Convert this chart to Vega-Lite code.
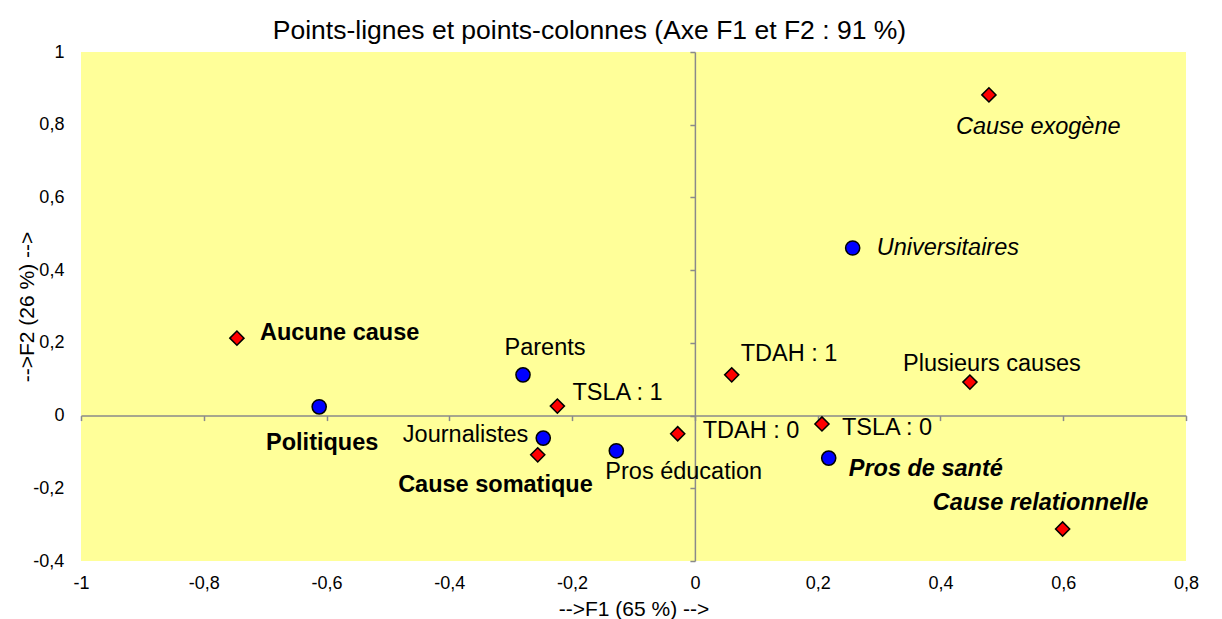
{
  "$schema": "https://vega.github.io/schema/vega-lite/v6.json",
  "autosize": {"type": "none"},
  "padding": {"left": 81, "top": 52, "right": 36, "bottom": 58},
  "width": 1105,
  "height": 509,
  "background": "white",
  "title": {
    "text": "Points-lignes et points-colonnes (Axe F1 et F2 : 91 %)",
    "font": "Liberation Sans",
    "fontSize": 26.5,
    "fontWeight": "normal",
    "color": "black",
    "anchor": "middle",
    "dx": -44,
    "baseline": "alphabetic",
    "offset": -22
  },
  "config": {
    "view": {"fill": "#FFFF99", "stroke": null},
    "font": "Liberation Sans",
    "axis": {
      "grid": false,
      "domainColor": "#8a8a8a",
      "domainWidth": 1.5,
      "tickColor": "#8a8a8a",
      "tickWidth": 1.5,
      "tickSize": 5,
      "labelFont": "Liberation Sans",
      "labelFontSize": 18,
      "labelColor": "black",
      "labelFlush": false,
      "labelOverlap": false,
      "titleFont": "Liberation Sans",
      "titleFontSize": 21,
      "titleFontWeight": "normal",
      "titleColor": "black"
    }
  },
  "data": {
    "values": [
      {"label": "Aucune cause", "groupe": "colonne", "F1": -0.746, "F2": 0.213},
      {"label": "Politiques", "groupe": "ligne", "F1": -0.612, "F2": 0.024},
      {"label": "Parents", "groupe": "ligne", "F1": -0.280, "F2": 0.112},
      {"label": "TSLA : 1", "groupe": "colonne", "F1": -0.224, "F2": 0.026},
      {"label": "Journalistes", "groupe": "ligne", "F1": -0.247, "F2": -0.062},
      {"label": "Cause somatique", "groupe": "colonne", "F1": -0.256, "F2": -0.108},
      {"label": "Pros éducation", "groupe": "ligne", "F1": -0.128, "F2": -0.097},
      {"label": "TDAH : 0", "groupe": "colonne", "F1": -0.028, "F2": -0.050},
      {"label": "TDAH : 1", "groupe": "colonne", "F1": 0.060, "F2": 0.112},
      {"label": "TSLA : 0", "groupe": "colonne", "F1": 0.207, "F2": -0.023},
      {"label": "Pros de santé", "groupe": "ligne", "F1": 0.218, "F2": -0.117},
      {"label": "Plusieurs causes", "groupe": "colonne", "F1": 0.448, "F2": 0.092},
      {"label": "Universitaires", "groupe": "ligne", "F1": 0.257, "F2": 0.461},
      {"label": "Cause exogène", "groupe": "colonne", "F1": 0.479, "F2": 0.882},
      {"label": "Cause relationnelle", "groupe": "colonne", "F1": 0.599, "F2": -0.312}
    ]
  },
  "encoding": {
    "x": {
      "field": "F1", "type": "quantitative",
      "scale": {"domain": [-1, 0.8], "nice": false, "zero": false},
      "axis": {
        "title": "-->F1 (65 %) -->",
        "values": [-1, -0.8, -0.6, -0.4, -0.2, 0, 0.2, 0.4, 0.6, 0.8],
        "offset": -145.4,
        "labelPadding": 154,
        "titlePadding": 6,
        "labelExpr": "replace(replace(format(datum.value, '.1~f'), '.', ','), '\u2212', '-')"
      }
    },
    "y": {
      "field": "F2", "type": "quantitative",
      "scale": {"domain": [-0.4, 1], "nice": false, "zero": false},
      "axis": {
        "title": "-->F2 (26 %) -->",
        "values": [-0.4, -0.2, 0, 0.2, 0.4, 0.6, 0.8, 1],
        "offset": -613.9,
        "labelPadding": 626,
        "titleX": -667,
        "titleY": 254.5,
        "titleAngle": -90,
        "titleAlign": "center",
        "titleBaseline": "middle",
        "labelExpr": "replace(replace(format(datum.value, '.1~f'), '.', ','), '\u2212', '-')"
      }
    }
  },
  "layer": [
    {
      "mark": {"type": "point", "filled": true, "size": 200, "stroke": "black", "strokeWidth": 1.5, "opacity": 1},
      "encoding": {
        "shape": {"field": "groupe", "type": "nominal", "scale": {"domain": ["ligne", "colonne"], "range": ["circle", "diamond"]}, "legend": null},
        "fill": {"field": "groupe", "type": "nominal", "scale": {"domain": ["ligne", "colonne"], "range": ["#0000FF", "#FF0000"]}, "legend": null}
      }
    },
    {"transform": [{"filter": "datum.label == 'Aucune cause'"}], "mark": {"type": "text", "align": "left", "baseline": "middle", "dx": 23, "dy": -5, "fontSize": 23.5, "fontWeight": "bold", "color": "black"}, "encoding": {"text": {"field": "label"}}},
    {"transform": [{"filter": "datum.label == 'Politiques'"}], "mark": {"type": "text", "align": "center", "baseline": "middle", "dx": 3, "dy": 36, "fontSize": 23.5, "fontWeight": "bold", "color": "black"}, "encoding": {"text": {"field": "label"}}},
    {"transform": [{"filter": "datum.label == 'Parents'"}], "mark": {"type": "text", "align": "center", "baseline": "middle", "dx": 22, "dy": -27, "fontSize": 23.5, "color": "black"}, "encoding": {"text": {"field": "label"}}},
    {"transform": [{"filter": "datum.label == 'TSLA : 1'"}], "mark": {"type": "text", "align": "left", "baseline": "middle", "dx": 15, "dy": -13, "fontSize": 23.5, "color": "black"}, "encoding": {"text": {"field": "label"}}},
    {"transform": [{"filter": "datum.label == 'Journalistes'"}], "mark": {"type": "text", "align": "right", "baseline": "middle", "dx": -15, "dy": -3, "fontSize": 23.5, "color": "black"}, "encoding": {"text": {"field": "label"}}},
    {"transform": [{"filter": "datum.label == 'Cause somatique'"}], "mark": {"type": "text", "align": "right", "baseline": "middle", "dx": 55, "dy": 30, "fontSize": 23.5, "fontWeight": "bold", "color": "black"}, "encoding": {"text": {"field": "label"}}},
    {"transform": [{"filter": "datum.label == 'Pros éducation'"}], "mark": {"type": "text", "align": "left", "baseline": "middle", "dx": -11, "dy": 21, "fontSize": 23.5, "color": "black"}, "encoding": {"text": {"field": "label"}}},
    {"transform": [{"filter": "datum.label == 'TDAH : 0'"}], "mark": {"type": "text", "align": "left", "baseline": "middle", "dx": 25, "dy": -3, "fontSize": 23.5, "color": "black"}, "encoding": {"text": {"field": "label"}}},
    {"transform": [{"filter": "datum.label == 'TDAH : 1'"}], "mark": {"type": "text", "align": "left", "baseline": "middle", "dx": 9, "dy": -21, "fontSize": 23.5, "color": "black"}, "encoding": {"text": {"field": "label"}}},
    {"transform": [{"filter": "datum.label == 'TSLA : 0'"}], "mark": {"type": "text", "align": "left", "baseline": "middle", "dx": 20, "dy": 4, "fontSize": 23.5, "color": "black"}, "encoding": {"text": {"field": "label"}}},
    {"transform": [{"filter": "datum.label == 'Pros de santé'"}], "mark": {"type": "text", "align": "left", "baseline": "middle", "dx": 20, "dy": 11, "fontSize": 23.5, "fontWeight": "bold", "fontStyle": "italic", "color": "black"}, "encoding": {"text": {"field": "label"}}},
    {"transform": [{"filter": "datum.label == 'Plusieurs causes'"}], "mark": {"type": "text", "align": "center", "baseline": "middle", "dx": 22, "dy": -18, "fontSize": 23.5, "color": "black"}, "encoding": {"text": {"field": "label"}}},
    {"transform": [{"filter": "datum.label == 'Universitaires'"}], "mark": {"type": "text", "align": "left", "baseline": "middle", "dx": 24, "dy": 0, "fontSize": 23.5, "fontStyle": "italic", "color": "black"}, "encoding": {"text": {"field": "label"}}},
    {"transform": [{"filter": "datum.label == 'Cause exogène'"}], "mark": {"type": "text", "align": "left", "baseline": "middle", "dx": -33, "dy": 32, "fontSize": 23.5, "fontStyle": "italic", "color": "black"}, "encoding": {"text": {"field": "label"}}},
    {"transform": [{"filter": "datum.label == 'Cause relationnelle'"}], "mark": {"type": "text", "align": "center", "baseline": "middle", "dx": -22, "dy": -26, "fontSize": 23.5, "fontWeight": "bold", "fontStyle": "italic", "color": "black"}, "encoding": {"text": {"field": "label"}}}
  ]
}
